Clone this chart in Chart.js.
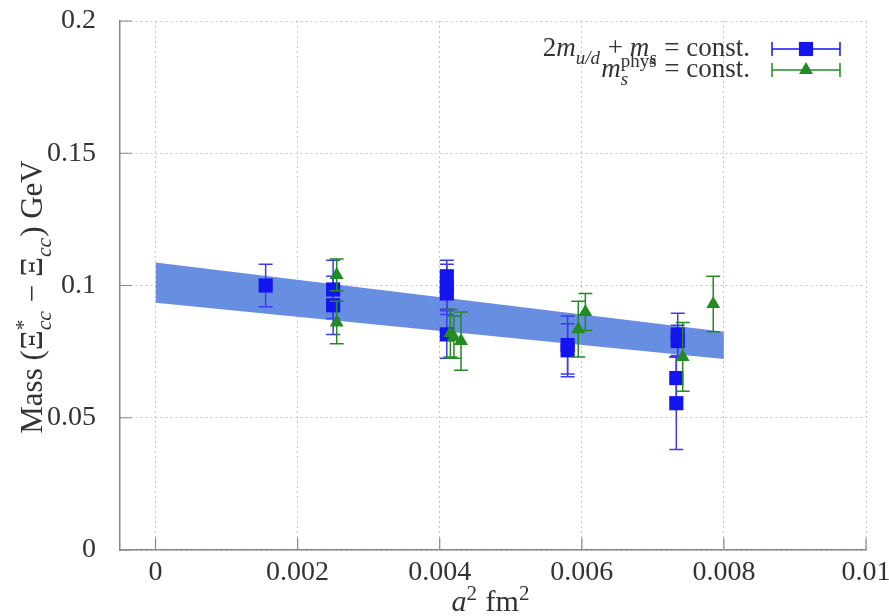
<!DOCTYPE html>
<html lang="en">
<head>
  <meta charset="UTF-8">
  <title>Mass splitting vs a^2</title>
  <script src="https://cdn.jsdelivr.net/npm/chart.js"></script>
  <style>
    body { margin: 0; background: #fff; }
    canvas { display: block; }
  </style>
</head>
<body>
  <canvas id="plot" width="889" height="616"></canvas>

  <script>
    // --- data ---
    const xTicks = [0, 0.002, 0.004, 0.006, 0.008, 0.01];
    const xTickLabels = ["0", "0.002", "0.004", "0.006", "0.008", "0.01"];
    const yTicks = [0, 0.05, 0.1, 0.15, 0.2];
    const yTickLabels = ["0", "0.05", "0.1", "0.15", "0.2"];

    // 2m_{u/d} + m_s = const.
    const blueX   = [0.00155, 0.0025, 0.0025, 0.0041, 0.0041, 0.0041, 0.0041, 0.0058, 0.0058, 0.00735, 0.00735, 0.00733, 0.00733];
    const blueY   = [0.100, 0.0985, 0.0925, 0.1035, 0.0995, 0.097, 0.0815, 0.0775, 0.0755, 0.0815, 0.079, 0.065, 0.0555];
    const blueErr = [0.008, 0.011, 0.011, 0.006, 0.0085, 0.008, 0.009, 0.011, 0.010, 0.008, 0.006, 0.008, 0.0175];

    // m_s^phys = const.
    const greenX   = [0.00255, 0.00255, 0.00415, 0.0042, 0.0043, 0.00595, 0.00605, 0.00742, 0.00785];
    const greenY   = [0.104, 0.086, 0.082, 0.0805, 0.079, 0.0835, 0.090, 0.073, 0.093];
    const greenErr = [0.006, 0.008, 0.009, 0.008, 0.011, 0.0105, 0.007, 0.013, 0.0105];

    // continuum fit band
    const bandX  = [0, 0.008];
    const bandHi = [0.1087, 0.0825];
    const bandLo = [0.0935, 0.0722];

    const BLUE = 'rgb(20,20,240)';
    const GREEN = 'rgb(34,139,34)';
    const SERIF = '"Liberation Serif", "DejaVu Serif", serif';

    const pts = (xs, ys) => xs.map((x, i) => ({ x, y: ys[i] }));

    // text pieces with italics, sub and superscripts
    function richWidth(ctx, parts, size) {
      let w = 0;
      parts.forEach(p => {
        if (p.sub !== undefined || p.sup !== undefined) {
          ctx.font = `italic ${size * 0.7}px ${SERIF}`;
          const a = p.sub ? ctx.measureText(p.sub).width : 0;
          ctx.font = `${size * 0.7}px ${SERIF}`;
          const b = p.sup ? ctx.measureText(p.sup).width : 0;
          w += Math.max(a, b) + 1;
        } else {
          ctx.font = `${p.it ? 'italic ' : ''}${size}px ${SERIF}`;
          w += ctx.measureText(p.t).width;
        }
      });
      return w;
    }
    function drawRich(ctx, parts, x, y, size) {
      ctx.textAlign = 'left';
      ctx.textBaseline = 'alphabetic';
      parts.forEach(p => {
        if (p.sub !== undefined || p.sup !== undefined) {
          let a = 0, b = 0;
          if (p.sub) {
            ctx.font = `italic ${size * 0.7}px ${SERIF}`;
            ctx.fillText(p.sub, x, y + size * 0.28);
            a = ctx.measureText(p.sub).width;
          }
          if (p.sup) {
            ctx.font = `${size * 0.7}px ${SERIF}`;
            ctx.fillText(p.sup, x, y - size * 0.38);
            b = ctx.measureText(p.sup).width;
          }
          x += Math.max(a, b) + 1;
        } else {
          ctx.font = `${p.it ? 'italic ' : ''}${size}px ${SERIF}`;
          ctx.fillText(p.t, x, y);
          x += ctx.measureText(p.t).width;
        }
      });
    }

    const errorBars = {
      id: 'errorBars',
      beforeDatasetDraw(chart, args) {
        const ds = chart.data.datasets[args.index];
        if (!ds.errs) return;
        const ctx = chart.ctx, xs = chart.scales.x, ys = chart.scales.y;
        ctx.save();
        ctx.strokeStyle = ds.barColor;
        ctx.lineWidth = 1.5;
        ds.data.forEach((p, i) => {
          const px = xs.getPixelForValue(p.x);
          const top = ys.getPixelForValue(p.y + ds.errs[i]);
          const bot = ys.getPixelForValue(p.y - ds.errs[i]);
          ctx.beginPath();
          ctx.moveTo(px, top); ctx.lineTo(px, bot);
          ctx.moveTo(px - 7, top); ctx.lineTo(px + 7, top);
          ctx.moveTo(px - 7, bot); ctx.lineTo(px + 7, bot);
          ctx.stroke();
        });
        ctx.restore();
      }
    };

    const decorations = {
      id: 'decorations',
      afterDraw(chart) {
        const ctx = chart.ctx, xs = chart.scales.x, ys = chart.scales.y;
        const a = chart.chartArea;
        ctx.save();
        // inward tick marks
        ctx.strokeStyle = '#888';
        ctx.lineWidth = 1.2;
        ctx.beginPath();
        xTicks.forEach(v => {
          const px = xs.getPixelForValue(v);
          ctx.moveTo(px, a.bottom); ctx.lineTo(px, a.bottom - 12);
        });
        yTicks.forEach(v => {
          const py = ys.getPixelForValue(v);
          ctx.moveTo(a.left, py); ctx.lineTo(a.left + 12, py);
        });
        ctx.stroke();

        ctx.fillStyle = '#333';
        // x title
        const xt = [{ t: 'a', it: true }, { sup: '2' }, { t: ' fm' }, { sup: '2' }];
        const xw = richWidth(ctx, xt, 30);
        drawRich(ctx, xt, 491 - xw / 2, 611, 30);

        // y title
        const yt = [{ t: 'Mass (Ξ' }, { sup: '*', sub: 'cc' }, { t: ' − Ξ' }, { sub: 'cc' }, { t: ') GeV' }];
        ctx.save();
        ctx.translate(42, 297);
        ctx.rotate(-Math.PI / 2);
        const yw = richWidth(ctx, yt, 31);
        drawRich(ctx, yt, -yw / 2, 0, 31);
        ctx.restore();

        // legend
        const l1 = [{ t: '2' }, { t: 'm', it: true }, { sub: 'u/d' }, { t: ' + ' }, { t: 'm', it: true }, { sub: 's' }, { t: ' = const.' }];
        const l2 = [{ t: 'm', it: true }, { sub: 's', sup: 'phys' }, { t: ' = const.' }];
        const size = 27;
        drawRich(ctx, l1, 750 - richWidth(ctx, l1, size), 56, size);
        drawRich(ctx, l2, 750 - richWidth(ctx, l2, size), 77, size);

        const keys = [[49, BLUE, 'rect', 10], [70, GREEN, 'triangle', 8]];
        keys.forEach(([y, col, style, r]) => {
          ctx.strokeStyle = col;
          ctx.lineWidth = 1.5;
          ctx.beginPath();
          ctx.moveTo(772, y); ctx.lineTo(840, y);
          ctx.moveTo(772, y - 7); ctx.lineTo(772, y + 7);
          ctx.moveTo(840, y - 7); ctx.lineTo(840, y + 7);
          ctx.stroke();
          ctx.fillStyle = col;
          Chart.helpers.drawPoint(ctx, { pointStyle: style, radius: r, borderWidth: 0 }, 806, y);
        });
        ctx.restore();
      }
    };

    const axisFont = { family: SERIF, size: 28 };
    const noPad = s => { s.paddingTop = s.paddingBottom = s.paddingLeft = s.paddingRight = 0; };

    new Chart(document.getElementById('plot').getContext('2d'), {
      type: 'scatter',
      data: {
        datasets: [
          { type: 'line', order: 10, data: pts(bandX, bandHi), borderWidth: 0, pointRadius: 0, fill: false },
          { type: 'line', order: 9, data: pts(bandX, bandLo), borderWidth: 0, pointRadius: 0,
            fill: '-1', backgroundColor: 'rgb(104,142,226)' },
          { order: 2, data: pts(blueX, blueY), errs: blueErr, barColor: 'rgb(60,60,240)',
            pointStyle: 'rect', pointRadius: 10, backgroundColor: BLUE, borderWidth: 0 },
          { order: 1, data: pts(greenX, greenY), errs: greenErr, barColor: GREEN,
            pointStyle: 'triangle', pointRadius: 8, backgroundColor: GREEN, borderWidth: 0 }
        ]
      },
      options: {
        responsive: false,
        animation: false,
        events: [],
        layout: { padding: { left: 0, top: 21, right: 23, bottom: 0 } },
        plugins: { legend: { display: false }, tooltip: { enabled: false } },
        scales: {
          x: {
            type: 'linear', min: -0.0005, max: 0.01,
            afterBuildTicks: s => { s.ticks = xTicks.map(v => ({ value: v })); },
            afterFit: s => { s.height = 66; noPad(s); },
            ticks: { callback: (v, i) => xTickLabels[i], font: axisFont, color: '#333', padding: 6, maxRotation: 0 },
            grid: { color: '#c4c4c4', lineWidth: 1, drawTicks: false },
            border: { color: '#888', width: 1.5, dash: [2, 3] }
          },
          y: {
            min: 0, max: 0.2,
            afterBuildTicks: s => { s.ticks = yTicks.map(v => ({ value: v })); },
            afterFit: s => { s.width = 120; noPad(s); },
            ticks: { callback: (v, i) => yTickLabels[i], font: axisFont, color: '#333', padding: 24 },
            grid: { color: '#c4c4c4', lineWidth: 1, drawTicks: false },
            border: { color: '#888', width: 1.5, dash: [2, 3] }
          }
        }
      },
      plugins: [errorBars, decorations]
    });
  </script>
</body>
</html>
